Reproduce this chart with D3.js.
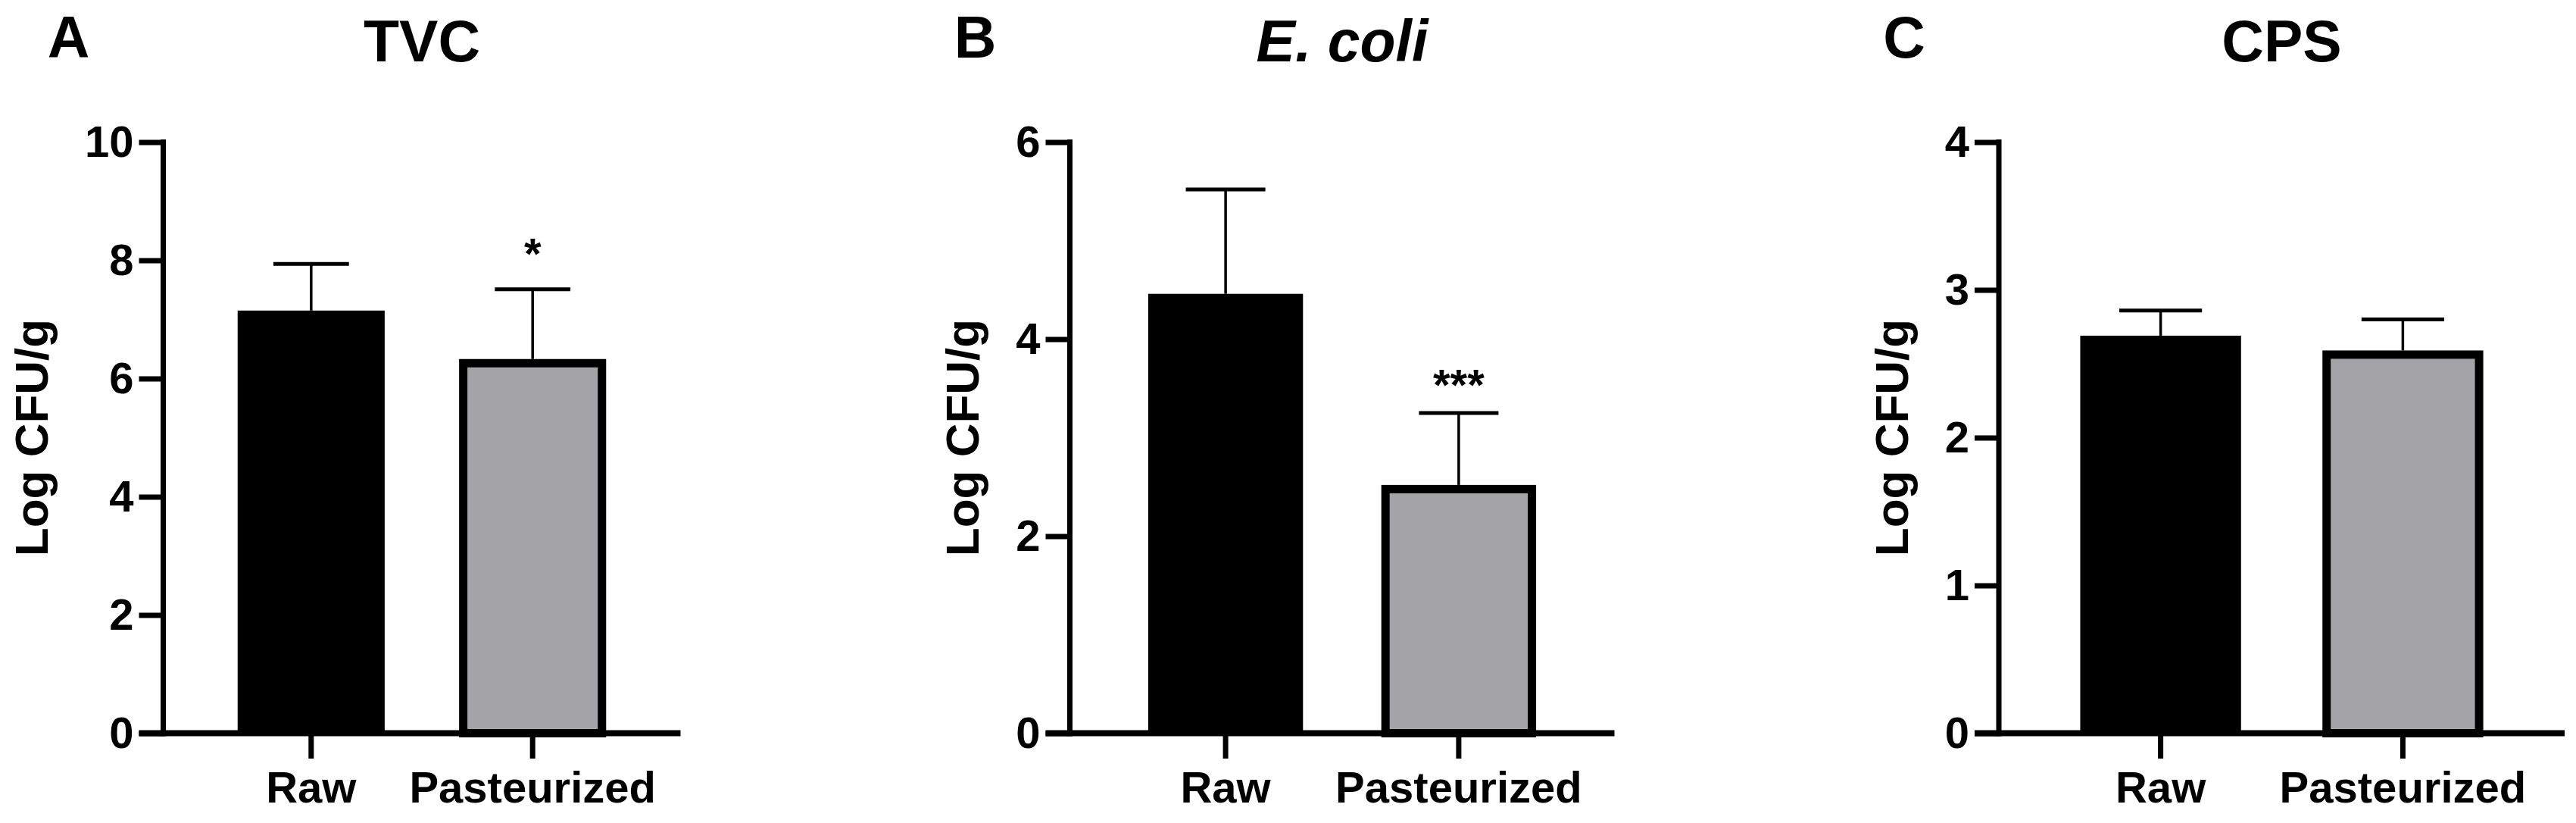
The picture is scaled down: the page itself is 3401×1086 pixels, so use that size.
<!DOCTYPE html>
<html><head><meta charset="utf-8">
<script src="https://cdn.jsdelivr.net/npm/d3@7"></script>
<style>
html,body{margin:0;padding:0;background:#fff;}
svg{display:block;}
text{font-family:"Liberation Sans",Arial,Helvetica,sans-serif;font-weight:bold;fill:#000;}
</style>
</head><body>
<svg id="chart" width="3401" height="1086"></svg>
<script>
// ---- data ----
const categories = ["Raw", "Pasteurized"];
const panelLetters = ["A", "B", "C"];
const panelTitles = ["TVC", "E. coli", "CPS"];
const tvcMean = [7.15, 6.33];
const tvcError = [0.79, 1.18];
const ecoliMean = [4.46, 2.52];
const ecoliError = [1.06, 0.73];
const cpsMean = [2.69, 2.59];
const cpsError = [0.17, 0.21];
const tvcTicks = [0, 2, 4, 6, 8, 10];
const ecoliTicks = [0, 2, 4, 6];
const cpsTicks = [0, 1, 2, 3, 4];
const tvcSig = ["", "*"];
const ecoliSig = ["", "***"];
const cpsSig = ["", ""];
const yLabel = "Log CFU/g";

// ---- layout / style ----
const FONT = '"Liberation Sans", Arial, Helvetica, sans-serif';
const Y0 = 967.5, Y1 = 187.5;
const barColors = ["#000000", "#a4a3a8"];
const panels = [
  {letter: panelLetters[0], title: panelTitles[0], italic: false, mean: tvcMean, err: tvcError, ticks: tvcTicks, sig: tvcSig, x0: 215.5, w: 683, sigGap: 27},
  {letter: panelLetters[1], title: panelTitles[1], italic: true, mean: ecoliMean, err: ecoliError, ticks: ecoliTicks, sig: ecoliSig, x0: 1412.5, w: 719, sigGap: 17},
  {letter: panelLetters[2], title: panelTitles[2], italic: false, mean: cpsMean, err: cpsError, ticks: cpsTicks, sig: cpsSig, x0: 2639, w: 747, sigGap: 20}
];

const svg = d3.select("#chart");
svg.append("rect").attr("width", 3401).attr("height", 1086).attr("fill", "#fff");

panels.forEach(p => {
  const g = svg.append("g");
  const y = d3.scaleLinear().domain([0, d3.max(p.ticks)]).range([Y0, Y1]);
  const x = d3.scaleBand().domain(categories).range([p.x0, p.x0 + p.w]).padding(0.336);
  const bw = x.bandwidth();
  const rows = categories.map((c, i) => ({c, i, m: p.mean[i], e: p.err[i], s: p.sig[i]}));

  // error bars (upper only)
  const eg = g.append("g");
  eg.selectAll("line.v").data(rows).join("line")
    .attr("x1", d => x(d.c) + bw / 2).attr("x2", d => x(d.c) + bw / 2)
    .attr("y1", d => y(d.m)).attr("y2", d => y(d.m + d.e))
    .attr("stroke", "#000").attr("stroke-width", 3.5);
  eg.selectAll("line.cap").data(rows).join("line")
    .attr("x1", d => x(d.c) + bw / 2 - bw * 0.257).attr("x2", d => x(d.c) + bw / 2 + bw * 0.257)
    .attr("y1", d => y(d.m + d.e)).attr("y2", d => y(d.m + d.e))
    .attr("stroke", "#000").attr("stroke-width", 5);

  // bars
  const sw = 11;
  g.selectAll("rect.bar").data(rows).join("rect")
    .attr("x", d => d.i === 0 ? x(d.c) : x(d.c) + sw / 2)
    .attr("y", d => d.i === 0 ? y(d.m) : y(d.m) + sw / 2)
    .attr("width", d => d.i === 0 ? bw : bw - sw)
    .attr("height", d => d.i === 0 ? Y0 - y(d.m) : Y0 - y(d.m) - sw / 2)
    .attr("fill", d => barColors[d.i])
    .attr("stroke", d => d.i === 0 ? "none" : "#000")
    .attr("stroke-width", d => d.i === 0 ? 0 : sw);

  // significance marks
  g.selectAll("text.sig").data(rows.filter(d => d.s)).join("text")
    .attr("x", d => x(d.c) + bw / 2)
    .attr("y", d => y(d.m + d.e) - p.sigGap)
    .attr("text-anchor", "middle")
    .attr("font-size", 58)
    .text(d => d.s);

  // y axis
  const ya = g.append("g").attr("transform", `translate(${p.x0},0)`)
    .call(d3.axisLeft(y).tickValues(p.ticks).tickFormat(d3.format("d"))
      .tickSize(32).tickPadding(7).tickSizeOuter(0));
  ya.attr("font-size", 58).attr("font-family", FONT).attr("font-weight", "bold");
  ya.select(".domain").remove();
  ya.selectAll(".tick line").attr("stroke", "#000").attr("stroke-width", 7);
  ya.selectAll(".tick text").attr("fill", "#000");
  g.append("line").attr("x1", p.x0).attr("x2", p.x0).attr("y1", Y1 - 3.5).attr("y2", Y0 + 4)
    .attr("stroke", "#000").attr("stroke-width", 7);

  // x axis
  const xa = g.append("g").attr("transform", `translate(0,${Y0})`)
    .call(d3.axisBottom(x).tickSize(33.5).tickSizeOuter(0));
  xa.attr("font-size", 58).attr("font-family", FONT).attr("font-weight", "bold");
  xa.select(".domain").remove();
  xa.selectAll(".tick line").attr("stroke", "#000").attr("stroke-width", 7);
  xa.selectAll(".tick text").attr("fill", "#000").attr("y", 91.5).attr("dy", 0);
  g.append("line").attr("x1", p.x0 - 32).attr("x2", p.x0 + p.w).attr("y1", Y0).attr("y2", Y0)
    .attr("stroke", "#000").attr("stroke-width", 8);

  // y axis title
  let minX = Infinity;
  ya.selectAll(".tick text").each(function () {
    const b = this.getBBox();
    const ctm = this.getCTM();
    minX = Math.min(minX, b.x + ctm.e);
  });
  const bx = minX - 49;
  const ymid = (Y0 + Y1) / 2;
  g.append("text")
    .attr("transform", `translate(${bx},${ymid}) rotate(-90)`)
    .attr("text-anchor", "middle")
    .attr("font-size", 62)
    .text(yLabel);

  // panel letter
  g.append("text").attr("x", p.x0 - 125).attr("y", 76)
    .attr("text-anchor", "middle").attr("font-size", 77).text(p.letter);
  // title
  g.append("text").attr("x", p.x0 + p.w / 2).attr("y", 81)
    .attr("text-anchor", "middle").attr("font-size", 77)
    .attr("font-style", p.italic ? "italic" : "normal").text(p.title);
});
</script>
</body></html>
